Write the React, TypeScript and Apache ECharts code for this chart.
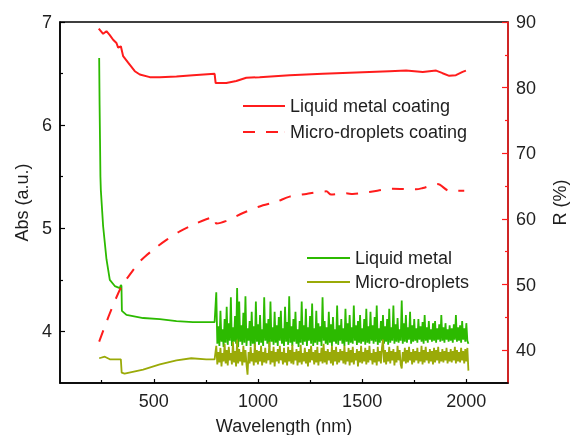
import React, { useEffect, useRef } from "react";
import * as echarts from "echarts";

// ---- Data (wavelength in nm) ----
const LM_SMOOTH_WL = [238, 240, 242, 244, 246, 257, 273, 289, 313, 337, 342, 345, 347, 369, 449, 529, 609, 688, 792];
const LM_SMOOTH_ABS = [6.65, 6.2, 5.86, 5.5, 5.37, 5.02, 4.7, 4.5, 4.44, 4.42, 4.45, 4.44, 4.2, 4.16, 4.13, 4.12, 4.1, 4.09, 4.09];

const MD_SMOOTH_WL = [238, 265, 289, 342, 346, 360, 449, 529, 609, 680, 752, 792];
const MD_SMOOTH_ABS = [3.74, 3.755, 3.73, 3.73, 3.6, 3.59, 3.63, 3.68, 3.72, 3.74, 3.73, 3.73];

// sampling grid of the noisy part (800 - 2010 nm, 5 nm apart)
const NOISE_WL = Array.from({ length: 243 }, (_, i) => 800 + 5 * i);

const LM_NOISE_ABS = [
  4.38, 3.88, 4.05, 3.86, 4.2, 3.9, 4.02, 3.85, 4.12, 3.89,
  4.24, 3.87, 4.08, 3.91, 4.33, 3.86, 4.04, 3.9, 4.15, 3.88,
  4.42, 3.85, 4.29, 3.9, 4.06, 3.87, 4.18, 3.89, 4.34, 3.86,
  4.03, 3.91, 4.1, 3.86, 4.19, 3.88, 4.05, 3.85, 4.29, 3.9,
  4.07, 3.87, 4.16, 3.89, 4.02, 3.86, 4.33, 3.91, 4.08, 3.88,
  4.12, 3.85, 4.29, 3.9, 4.04, 3.87, 4.19, 3.89, 4.06, 3.86,
  4.14, 3.91, 4.2, 3.88, 4.03, 3.86, 4.24, 3.9, 4.09, 3.87,
  4.34, 3.89, 4.05, 3.86, 4.12, 3.9, 4.19, 3.88, 4.02, 3.85,
  4.1, 3.89, 4.29, 3.87, 4.06, 3.9, 4.22, 3.86, 4.04, 3.91,
  4.15, 3.88, 4.27, 3.86, 4.03, 3.89, 4.2, 3.87, 4.08, 3.9,
  4.05, 3.86, 4.33, 3.91, 4.1, 3.88, 4.04, 3.87, 4.19, 3.89,
  4.07, 3.86, 4.14, 3.9, 4.02, 3.88, 4.25, 3.87, 4.06, 3.91,
  4.12, 3.88, 4.03, 3.86, 4.22, 3.9, 4.08, 3.87, 4.16, 3.89,
  4.04, 3.88, 4.25, 3.91, 4.06, 3.87, 4.1, 3.89, 4.16, 3.88,
  4.03, 3.9, 4.12, 3.87, 4.22, 3.89, 4.05, 3.88, 4.19, 3.91,
  4.06, 3.88, 4.14, 3.9, 4.25, 3.87, 4.03, 3.89, 4.1, 3.91,
  4.16, 3.88, 4.05, 3.9, 4.12, 3.87, 4.22, 3.89, 4.04, 3.91,
  4.25, 3.88, 4.07, 3.9, 4.13, 3.89, 4.02, 3.91, 4.3, 3.88,
  4.08, 3.9, 4.16, 3.89, 4.04, 3.92, 4.19, 3.88, 4.06, 3.9,
  4.12, 3.91, 4.03, 3.89, 4.12, 3.92, 4.05, 3.9, 4.09, 3.88,
  4.16, 3.91, 4.04, 3.89, 4.1, 3.92, 4.02, 3.9, 4.08, 3.91,
  4.1, 3.89, 4.03, 3.92, 4.07, 3.9, 4.16, 3.91, 4.04, 3.89,
  4.08, 3.92, 4.02, 3.9, 4.06, 3.91, 4.03, 3.89, 4.07, 3.92,
  4.16, 3.9, 4.04, 3.91, 4.06, 3.89, 4.1, 3.92, 4.03, 3.9,
  4.08, 3.91, 3.88,
];

const MD_NOISE_ABS = [
  3.86, 3.68, 3.8, 3.7, 3.84, 3.66, 3.79, 3.71, 3.88, 3.69,
  3.82, 3.67, 3.85, 3.72, 3.79, 3.68, 3.9, 3.7, 3.81, 3.66,
  3.92, 3.69, 3.83, 3.71, 3.8, 3.67, 3.86, 3.7, 3.82, 3.68,
  3.58, 3.8, 3.69, 3.85, 3.71, 3.79, 3.67, 3.88, 3.7, 3.82,
  3.68, 3.81, 3.71, 3.86, 3.67, 3.8, 3.7, 3.84, 3.69, 3.79,
  3.72, 3.9, 3.68, 3.81, 3.7, 3.85, 3.66, 3.8, 3.71, 3.83,
  3.69, 3.86, 3.72, 3.8, 3.68, 3.84, 3.7, 3.79, 3.67, 3.85,
  3.71, 3.82, 3.69, 3.87, 3.68, 3.8, 3.72, 3.83, 3.67, 3.81,
  3.7, 3.87, 3.68, 3.79, 3.71, 3.84, 3.69, 3.8, 3.66, 3.83,
  3.7, 3.86, 3.72, 3.8, 3.68, 3.82, 3.7, 3.85, 3.67, 3.79,
  3.71, 3.84, 3.69, 3.88, 3.7, 3.81, 3.68, 3.83, 3.72, 3.8,
  3.69, 3.86, 3.67, 3.82, 3.71, 3.85, 3.68, 3.8, 3.7, 3.83,
  3.72, 3.81, 3.69, 3.86, 3.68, 3.8, 3.71, 3.84, 3.67, 3.82,
  3.7, 3.85, 3.68, 3.79, 3.72, 3.83, 3.66, 3.81, 3.7, 3.86,
  3.69, 3.8, 3.71, 3.84, 3.68, 3.82, 3.7, 3.86, 3.72, 3.79,
  3.68, 3.83, 3.7, 3.8, 3.67, 3.85, 3.71, 3.81, 3.69, 3.84,
  3.92, 3.7, 3.82, 3.68, 3.8, 3.71, 3.85, 3.69, 3.81, 3.72,
  3.83, 3.67, 3.8, 3.7, 3.86, 3.72, 3.82, 3.68, 3.64, 3.8,
  3.71, 3.84, 3.69, 3.82, 3.7, 3.85, 3.72, 3.8, 3.68, 3.83,
  3.7, 3.81, 3.72, 3.84, 3.69, 3.8, 3.71, 3.86, 3.68, 3.82,
  3.7, 3.85, 3.72, 3.8, 3.69, 3.83, 3.71, 3.81, 3.68, 3.84,
  3.7, 3.82, 3.72, 3.85, 3.69, 3.8, 3.71, 3.83, 3.7, 3.81,
  3.72, 3.84, 3.69, 3.8, 3.71, 3.83, 3.7, 3.81, 3.72, 3.85,
  3.69, 3.82, 3.71, 3.8, 3.7, 3.84, 3.72, 3.81, 3.69, 3.83,
  3.71, 3.84, 3.62,
];

const LMC_WL = [236, 257, 273, 289, 305, 321, 329, 342, 353, 377, 409, 433, 481, 529, 609, 688, 792, 797, 848, 896, 944, 1008, 1152, 1311, 1471, 1631, 1711, 1791, 1855, 1886, 1918, 1950, 1982, 1998];
const LMC_R = [89.0, 88.2, 88.6, 88.0, 87.3, 86.8, 86.1, 86.3, 84.8, 83.8, 82.5, 82.0, 81.6, 81.6, 81.7, 81.9, 82.1, 80.7, 80.7, 81.0, 81.5, 81.6, 81.9, 82.1, 82.3, 82.5, 82.6, 82.4, 82.6, 82.2, 81.8, 81.9, 82.4, 82.6];

const MDC_WL = [238, 289, 345, 385, 433, 497, 561, 625, 688, 752, 792, 800, 848, 928, 1008, 1088, 1152, 1232, 1328, 1351, 1423, 1455, 1535, 1647, 1759, 1791, 1862, 1918, 1990];
const MDC_R = [41.3, 45.6, 49.7, 51.5, 53.5, 55.3, 56.8, 58.1, 59.1, 59.95, 60.3, 59.3, 59.7, 60.9, 61.9, 62.6, 63.4, 63.8, 64.2, 63.7, 63.9, 63.8, 64.1, 64.6, 64.5, 64.7, 65.3, 64.3, 64.3];

const X_MAJOR = [500, 1000, 1500, 2000];
const X_MINOR = [250, 750, 1250, 1750];
const YL_MAJOR = [4, 5, 6, 7];
const YL_MINOR = [4.5, 5.5, 6.5];
const YR_MAJOR = [40, 50, 60, 70, 80, 90];
const YR_MINOR = [45, 55, 65, 75, 85];

const zip = (xs: number[], ys: number[]) => xs.map((x, i) => [x, ys[i]]);

const FONT = "'Liberation Sans', Arial, sans-serif";
const TEXT = "#1e1e1e";
const RED = "#ff1c1c";
const GREEN = "#2cba00";
const OLIVE = "#9aaa08";

const ICON_SOLID = "path://M0,0h42v2h-42z";
const ICON_DASH = "path://M0,0h12v2h-12zM23,0h12v2h-12zM41.9,0h0.1v2h-0.1z";

export default function App() {
  const ref = useRef<HTMLDivElement>(null);
  useEffect(() => {
    if (!ref.current) return;
    const chart = echarts.init(ref.current, undefined, { renderer: "svg" });
    const lmData = [...zip(LM_SMOOTH_WL, LM_SMOOTH_ABS), ...zip(NOISE_WL, LM_NOISE_ABS)];
    const mdData = [...zip(MD_SMOOTH_WL, MD_SMOOTH_ABS), ...zip(NOISE_WL, MD_NOISE_ABS)];
    const minorAxis = (pos: string, min: number, max: number, vals: number[], color: string) => ({
      type: "value",
      position: pos,
      min,
      max,
      axisLine: { show: false },
      axisTick: { inside: true, length: 3, customValues: vals, lineStyle: { color, width: 1.2 } },
      axisLabel: { show: false },
      splitLine: { show: false },
    });
    const legendText = { fontSize: 18, color: TEXT, fontFamily: FONT, lineHeight: 20 };
    chart.setOption({
      animation: false,
      textStyle: { fontFamily: FONT },
      grid: {
        left: 60, right: 62, top: 22, bottom: 52,
        outerBoundsMode: "none",
        containLabel: false,
        show: true, borderColor: "#000", borderWidth: 1.5, backgroundColor: "transparent",
      },
      legend: [
        {
          data: [
            { name: "Liquid metal coating", icon: ICON_SOLID },
            { name: "Micro-droplets coating", icon: ICON_DASH },
          ],
          orient: "vertical",
          left: 243,
          top: 96,
          padding: 0,
          itemWidth: 42,
          itemHeight: 14,
          itemGap: 6,
          textStyle: legendText,
        },
        {
          data: [
            { name: "Liquid metal", icon: ICON_SOLID },
            { name: "Micro-droplets", icon: ICON_SOLID },
          ],
          orient: "vertical",
          left: 307,
          top: 248,
          padding: 0,
          itemWidth: 43,
          itemHeight: 14,
          itemGap: 4,
          textStyle: legendText,
        },
      ],
      xAxis: [
        {
          type: "value",
          position: "bottom",
          min: 50,
          max: 2200,
          name: "Wavelength (nm)",
          nameLocation: "middle",
          nameGap: 34,
          nameTextStyle: { fontSize: 18, color: TEXT, fontFamily: FONT },
          axisLine: { lineStyle: { color: "#000", width: 1.5 } },
          axisTick: { inside: true, length: 4, customValues: X_MAJOR, lineStyle: { color: "#000", width: 1.2 } },
          axisLabel: { customValues: X_MAJOR, fontSize: 18, color: TEXT, margin: 9, fontFamily: FONT, formatter: (v: number) => String(v) },
          splitLine: { show: false },
        },
        minorAxis("bottom", 50, 2200, X_MINOR, "#000"),
      ],
      yAxis: [
        {
          type: "value",
          position: "left",
          min: 3.5,
          max: 7,
          name: "Abs (a.u.)",
          nameLocation: "middle",
          nameRotate: 90,
          nameGap: 28,
          nameTextStyle: { fontSize: 18, color: TEXT, fontFamily: FONT },
          axisLine: { show: true, lineStyle: { color: "#000", width: 1.5 } },
          axisTick: { inside: true, length: 5, customValues: YL_MAJOR, lineStyle: { color: "#000", width: 1.2 } },
          axisLabel: { customValues: YL_MAJOR, fontSize: 18, color: TEXT, margin: 8, fontFamily: FONT, formatter: (v: number) => String(v) },
          splitLine: { show: false },
        },
        {
          type: "value",
          position: "right",
          min: 35,
          max: 90,
          name: "R (%)",
          nameLocation: "middle",
          nameRotate: 90,
          nameGap: 43,
          nameTextStyle: { fontSize: 18, color: TEXT, fontFamily: FONT },
          axisLine: { show: true, lineStyle: { color: RED, width: 1.5 } },
          axisTick: { inside: true, length: 6, customValues: YR_MAJOR, lineStyle: { color: RED, width: 1.2 } },
          axisLabel: { customValues: YR_MAJOR, fontSize: 18, color: TEXT, margin: 8, fontFamily: FONT, formatter: (v: number) => String(v) },
          splitLine: { show: false },
        },
        minorAxis("left", 3.5, 7, YL_MINOR, "#000"),
        minorAxis("right", 35, 90, YR_MINOR, RED),
      ],
      series: [
        {
          name: "Liquid metal",
          type: "line",
          xAxisIndex: 0,
          yAxisIndex: 0,
          data: lmData,
          symbol: "none",
          lineStyle: { color: GREEN, width: 1.8 },
          itemStyle: { color: GREEN },
        },
        {
          name: "Micro-droplets",
          type: "line",
          xAxisIndex: 0,
          yAxisIndex: 0,
          data: mdData,
          symbol: "none",
          lineStyle: { color: OLIVE, width: 1.8 },
          itemStyle: { color: OLIVE },
        },
        {
          name: "Liquid metal coating",
          type: "line",
          xAxisIndex: 0,
          yAxisIndex: 1,
          data: zip(LMC_WL, LMC_R),
          symbol: "none",
          lineStyle: { color: RED, width: 2 },
          itemStyle: { color: RED },
        },
        {
          name: "Micro-droplets coating",
          type: "line",
          xAxisIndex: 0,
          yAxisIndex: 1,
          data: zip(MDC_WL, MDC_R),
          symbol: "none",
          smooth: 0.3,
          lineStyle: { color: RED, width: 2, type: [12, 11] },
          itemStyle: { color: RED },
        },
      ],
    });
    return () => chart.dispose();
  }, []);
  return <div ref={ref} style={{ position: "fixed", left: 0, top: 0, width: 570, height: 435 }} />;
}
